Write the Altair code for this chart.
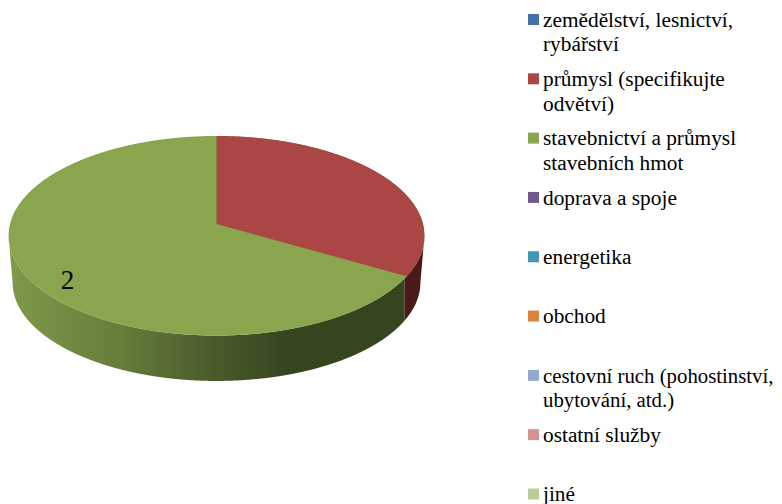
import altair as alt
import numpy as np
import pandas as pd

categories = ["zemědělství, lesnictví,|rybářství", "průmysl (specifikujte|odvětví)",
              "stavebnictví a průmysl|stavebních hmot", "doprava a spoje", "energetika", "obchod",
              "cestovní ruch (pohostinství,|ubytování, atd.)", "ostatní služby", "jiné"]
values = [0, 1, 2, 0, 0, 0, 0, 0, 0]
colors = ["#4572A7", "#AA4643", "#89A54E", "#71588F", "#4198AF", "#DB843D", "#93A9CF", "#D19392", "#B9CD96"]
shown_label = "2"
legend_font_sizes = [21.33, 21.33, 21.33, 21.33, 21.33, 21.33, 20.8, 21.33, 21.33]

# ---- layout of the 3-D pie (page pixels) ----
W, H = 766, 496
CX, TOP_CY, BOT_CY = 216.5, 224.0, 271.0
TOP_RX, TOP_RY, BOT_RX, BOT_RY, K = 206.5, 98.4, 202.5, 97.0, 0.1178
FONT = "Liberation Serif"


def project(theta, rx, ry, cy):
    a, b = np.sin(theta), -np.cos(theta)
    w = 1 - K * b
    return CX + rx * a / w, cy + ry * b / w


t = np.linspace(0, 2 * np.pi, 1441)
tx, ty = project(t, TOP_RX, TOP_RY, TOP_CY)
bx, by = project(t, BOT_RX, BOT_RY, BOT_CY)
left_i, right_i = int(np.argmin(tx)), int(np.argmax(tx))
lo = min(right_i, left_i)
hi = max(right_i, left_i)
top_lower = (tx[lo:hi + 1], ty[lo:hi + 1])
top_upper = (np.r_[tx[hi:], tx[1:lo + 1]], np.r_[ty[hi:], ty[1:lo + 1]])


def curve(points, x):
    px, py = points
    o = np.argsort(px)
    return np.interp(x, px[o], py[o])


bl = int(np.argmin(bx))
br = int(np.argmax(bx))
bot_poly = (np.r_[tx[left_i], bx[br:bl + 1], tx[right_i]], np.r_[ty[left_i], by[br:bl + 1], ty[right_i]])

total = sum(values)
boundary = 2 * np.pi * values[1] / total
ex, ey = project(np.array(boundary), TOP_RX, TOP_RY, TOP_CY)
ebx, _ = project(np.array(boundary), BOT_RX, BOT_RY, BOT_CY)
wall_split = float(ex + ebx) / 2

xmin, xmax = float(tx.min()), float(tx.max())
xs = np.unique(np.r_[np.linspace(xmin, xmax, 1201), CX, float(ex), wall_split])

green_top = pd.DataFrame({"x": xs, "y": curve(top_upper, xs), "y2": curve(top_lower, xs)})
rx_ = xs[xs >= CX]
red_lower = np.where(rx_ <= float(ex),
                     TOP_CY + (float(ey) - TOP_CY) * (rx_ - CX) / (float(ex) - CX),
                     curve(top_lower, rx_))
red_top = pd.DataFrame({"x": rx_, "y": curve(top_upper, rx_), "y2": red_lower})
gw = xs[xs <= wall_split]
green_wall = pd.DataFrame({"x": gw, "y": curve(top_lower, gw), "y2": curve(bot_poly, gw)})
rw = xs[xs >= wall_split]
red_wall = pd.DataFrame({"x": rw, "y": curve(top_lower, rw), "y2": curve(bot_poly, rw)})

X = alt.X("x:Q", scale=alt.Scale(domain=[8, 8 + W], nice=False, zero=False), axis=None)
Y = alt.Y("y:Q", scale=alt.Scale(domain=[8 + H, 8], nice=False, zero=False), axis=None)
Y2 = alt.Y2("y2:Q")


def area(df, fill):
    return alt.Chart(df).mark_area(color=fill, interpolate="linear").encode(x=X, y=Y, y2=Y2)


green_side = alt.Gradient(gradient="linear", x1=0, x2=1, y1=0, y2=0, stops=[
    alt.GradientStop(color="#7F9A4A", offset=0),
    alt.GradientStop(color="#667D3B", offset=0.28),
    alt.GradientStop(color="#4A5B2B", offset=0.52),
    alt.GradientStop(color="#37451F", offset=0.70),
    alt.GradientStop(color="#37451F", offset=1),
])

label_df = pd.DataFrame({"x": [67.5], "y": [288.5], "t": [shown_label]})
label = alt.Chart(label_df).mark_text(font=FONT, fontSize=27, color="#000000", baseline="alphabetic",
                                      align="center").encode(x=X, y=Y, text="t:N")

pie = alt.layer(area(green_wall, green_side), area(red_wall, "#4A1A18"),
                area(green_top, colors[2]), area(red_top, colors[1]), label)

legend_df = pd.DataFrame({"category": categories, "font": legend_font_sizes})
LY = alt.Y("category:N", scale=alt.Scale(type="point", domain=categories, range=[11.5, 486], padding=0), axis=None)
legend_color = alt.Color("category:N", scale=alt.Scale(domain=categories, range=colors), legend=None)
swatches = alt.Chart(legend_df).mark_point(shape="square", filled=True, size=121, opacity=1).encode(
    x=alt.value(525.5), y=LY, color=legend_color)
texts = alt.Chart(legend_df).mark_text(font=FONT, color="#000000", align="left",
                                       baseline="alphabetic", dy=7.3, lineBreak="|", lineHeight=24.7).encode(
    x=alt.value(535), y=LY, text="category:N", size=alt.Size("font:Q", scale=None, legend=None))

chart = alt.layer(pie, swatches, texts).resolve_scale(y="independent").properties(
    width=W, height=H, padding=0, autosize=alt.AutoSizeParams(type="none"), background="white"
).configure_view(stroke=None)

chart.save("out.html", embed_options={"renderer": "svg", "actions": False})
